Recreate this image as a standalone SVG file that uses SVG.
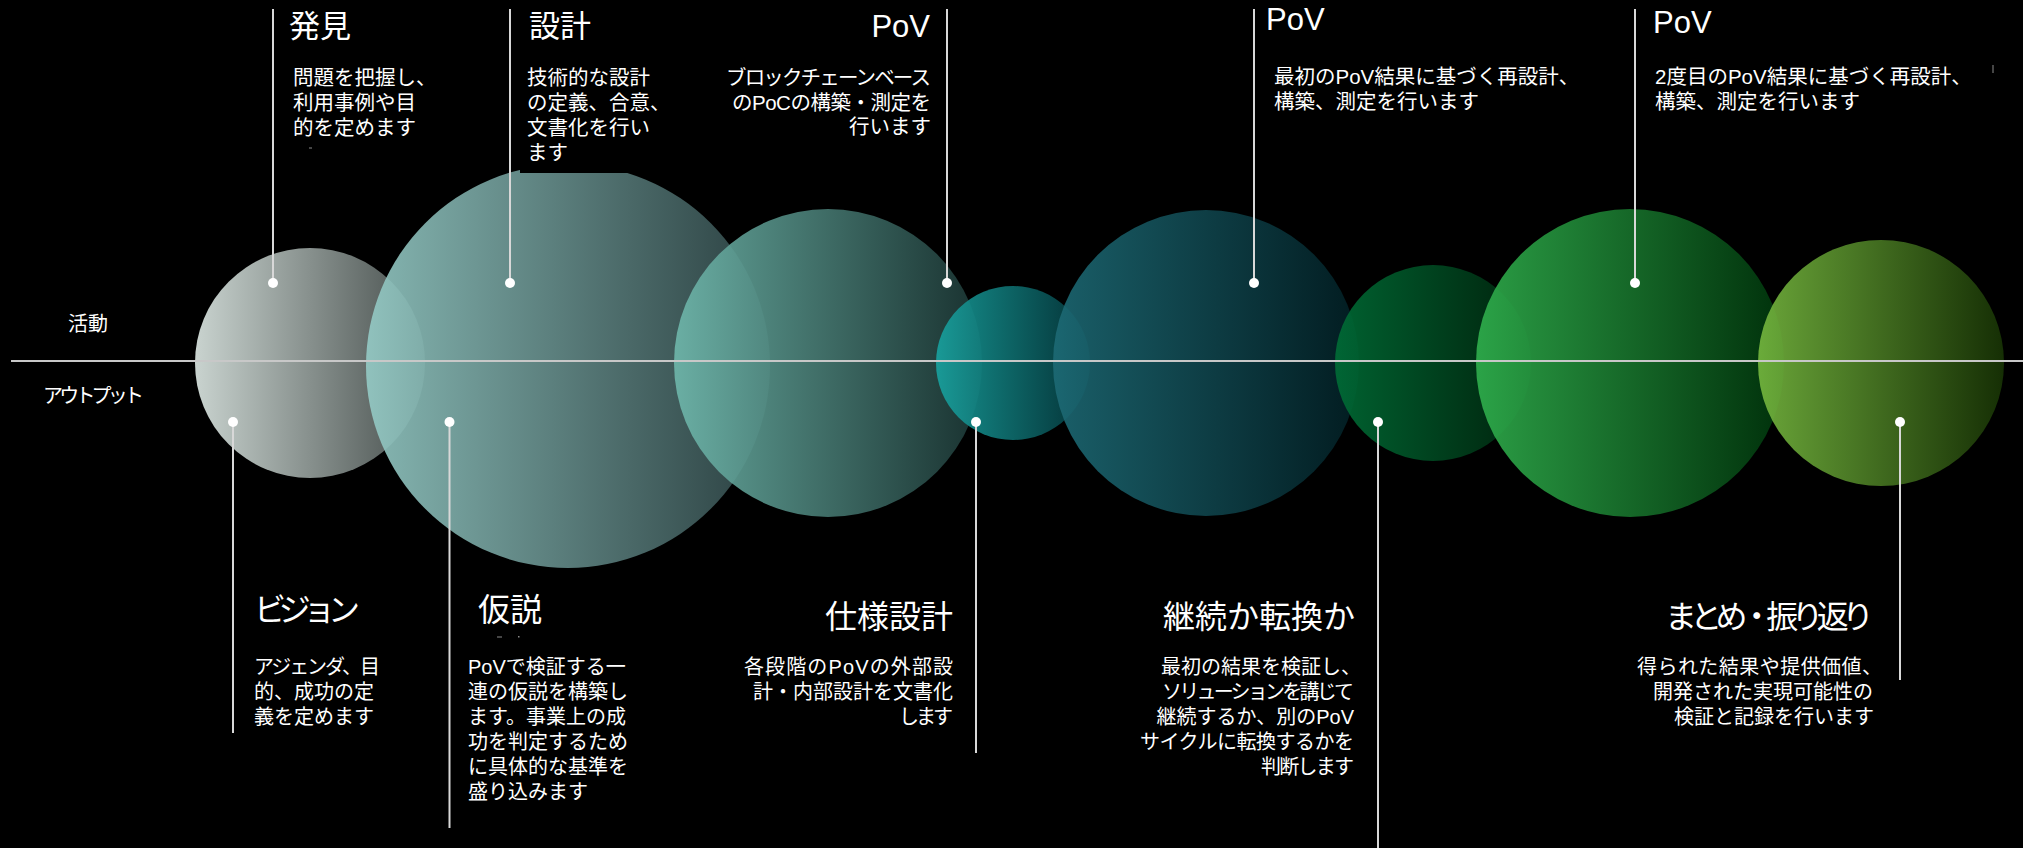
<svg xmlns="http://www.w3.org/2000/svg" width="2023" height="848" viewBox="0 0 2023 848">
<style>
.t{font-family:'Liberation Sans','Noto Sans CJK JP',sans-serif;fill:#ffffff}
.h{font-size:31px}
.hb{font-size:32px}
.d{font-size:20.5px}
.db{font-size:20px}
.e{text-anchor:end}
.v{stroke:#d8d8d8;stroke-width:2;fill:none}
.dot{fill:#ffffff}
.c{opacity:0.9}
</style>
<defs>
<linearGradient id="g1" x1="0" y1="0" x2="1" y2="0"><stop offset="0" stop-color="#c9d3cf"/><stop offset="1" stop-color="#454d4b"/></linearGradient>
<linearGradient id="g2" x1="0" y1="0" x2="1" y2="0"><stop offset="0" stop-color="#95cbc6"/><stop offset="1" stop-color="#2f4647"/></linearGradient>
<linearGradient id="g3" x1="0" y1="0" x2="1" y2="0"><stop offset="0" stop-color="#6fb8ac"/><stop offset="1" stop-color="#1b3634"/></linearGradient>
<linearGradient id="g4" x1="0" y1="0" x2="1" y2="0"><stop offset="0" stop-color="#18a3a0"/><stop offset="1" stop-color="#04363b"/></linearGradient>
<linearGradient id="g5" x1="0" y1="0" x2="1" y2="0"><stop offset="0" stop-color="#1d6a75"/><stop offset="1" stop-color="#021f24"/></linearGradient>
<linearGradient id="g6" x1="0" y1="0" x2="1" y2="0"><stop offset="0" stop-color="#006d36"/><stop offset="1" stop-color="#00250d"/></linearGradient>
<linearGradient id="g7" x1="0" y1="0" x2="1" y2="0"><stop offset="0" stop-color="#30b04d"/><stop offset="1" stop-color="#00360c"/></linearGradient>
<linearGradient id="g8" x1="0" y1="0" x2="1" y2="0"><stop offset="0" stop-color="#76b83f"/><stop offset="1" stop-color="#183405"/></linearGradient>
</defs>
<rect x="0" y="0" width="2023" height="848" fill="#000000"/>

<g id="circles">
<circle id="c1" cx="310" cy="363" r="115" fill="url(#g1)"/>
<circle id="c2" class="c" cx="568" cy="366" r="202" fill="url(#g2)"/>
<circle id="c3" class="c" cx="828" cy="363" r="154" fill="url(#g3)"/>
<circle id="c4" class="c" cx="1013" cy="363" r="77" fill="url(#g4)"/>
<circle id="c5" class="c" cx="1206" cy="363" r="153" fill="url(#g5)"/>
<circle id="c6" class="c" cx="1433" cy="363" r="98" fill="url(#g6)"/>
<circle id="c7" class="c" cx="1630" cy="363" r="154" fill="url(#g7)"/>
<circle id="c8" class="c" cx="1881" cy="363" r="123" fill="url(#g8)"/>
</g>

<rect id="mask-box" x="520" y="100" width="131" height="73" fill="#000000"/>

<g id="axis">
<line x1="11" y1="361" x2="2023" y2="361" stroke="#c8c8c8" stroke-width="2"/>
<text class="t db" x="68" y="331">活動</text>
<text class="t db" x="43" y="403" textLength="101">アウトプット</text>
</g>

<g id="connectors">
<line class="v" x1="273" y1="9" x2="273" y2="283"/>
<line class="v" x1="510" y1="9" x2="510" y2="283"/>
<line class="v" x1="947" y1="9" x2="947" y2="283"/>
<line class="v" x1="1254" y1="9" x2="1254" y2="283"/>
<line class="v" x1="1635" y1="9" x2="1635" y2="283"/>
<line class="v" x1="233" y1="422" x2="233" y2="733"/>
<line class="v" x1="449.5" y1="422" x2="449.5" y2="828"/>
<line class="v" x1="976" y1="422" x2="976" y2="753"/>
<line class="v" x1="1378" y1="422" x2="1378" y2="848"/>
<line class="v" x1="1900" y1="422" x2="1900" y2="680"/>
<circle class="dot" cx="273" cy="283" r="5"/>
<circle class="dot" cx="510" cy="283" r="5"/>
<circle class="dot" cx="947" cy="283" r="5"/>
<circle class="dot" cx="1254" cy="283" r="5"/>
<circle class="dot" cx="1635" cy="283" r="5"/>
<circle class="dot" cx="233" cy="422" r="5"/>
<circle class="dot" cx="449.5" cy="422" r="5"/>
<circle class="dot" cx="976" cy="422" r="5"/>
<circle class="dot" cx="1378" cy="422" r="5"/>
<circle class="dot" cx="1900" cy="422" r="5"/>
</g>

<g id="node-hakken">
<text class="t h" x="289" y="37">発見</text>
<text class="t d" x="293" y="85">問題を把握し、</text>
<text class="t d" x="293" y="110">利用事例や目</text>
<text class="t d" x="293" y="135">的を定めます</text>
</g>

<g id="node-sekkei">
<text class="t h" x="529" y="37">設計</text>
<text class="t d" x="527" y="85">技術的な設計</text>
<text class="t d" x="527" y="110">の定義、合意、</text>
<text class="t d" x="527" y="135">文書化を行い</text>
<text class="t d" x="527" y="160">ます</text>
</g>

<g id="node-pov1">
<text class="t h e" x="930" y="37">PoV</text>
<text class="t d e" x="931" y="85" textLength="205">ブロックチェーンベース</text>
<text class="t d e" x="931" y="110" textLength="199">のPoCの構築・測定を</text>
<text class="t d e" x="931" y="134">行います</text>
</g>

<g id="node-pov2">
<text class="t h" x="1266" y="30">PoV</text>
<text class="t d" x="1274" y="84">最初のPoV結果に基づく再設計、</text>
<text class="t d" x="1274" y="109">構築、測定を行います</text>
</g>

<g id="node-pov3">
<text class="t h" x="1653" y="33">PoV</text>
<text class="t d" x="1655" y="84">2度目のPoV結果に基づく再設計、</text>
<text class="t d" x="1655" y="109">構築、測定を行います</text>
</g>

<g id="node-vision">
<text class="t hb" x="254" y="621" textLength="106">ビジョン</text>
<text class="t db" x="254" y="674" textLength="126">アジェンダ、目</text>
<text class="t db" x="254" y="699">的、成功の定</text>
<text class="t db" x="254" y="724">義を定めます</text>
</g>

<g id="node-kasetsu">
<text class="t hb" x="478" y="621">仮説</text>
<text class="t db" x="468" y="674">PoVで検証する一</text>
<text class="t db" x="468" y="699">連の仮説を構築し</text>
<text class="t db" x="468" y="724">ます。事業上の成</text>
<text class="t db" x="468" y="749">功を判定するため</text>
<text class="t db" x="468" y="774">に具体的な基準を</text>
<text class="t db" x="468" y="799">盛り込みます</text>
</g>

<g id="node-shiyou">
<text class="t hb e" x="953" y="628">仕様設計</text>
<text class="t db e" x="953" y="674" textLength="209">各段階のPoVの外部設</text>
<text class="t db e" x="953" y="699">計・内部設計を文書化</text>
<text class="t db e" x="953" y="724" textLength="54">します</text>
</g>

<g id="node-keizoku">
<text class="t hb e" x="1355" y="628">継続か転換か</text>
<text class="t db e" x="1361" y="674">最初の結果を検証し、</text>
<text class="t db e" x="1354" y="699" textLength="192">ソリューションを講じて</text>
<text class="t db e" x="1354" y="724">継続するか、別のPoV</text>
<text class="t db e" x="1354" y="749" textLength="214">サイクルに転換するかを</text>
<text class="t db e" x="1354" y="774" textLength="93">判断します</text>
</g>

<g id="node-matome">
<text class="t hb e" x="1874" y="628" textLength="209">まとめ・振り返り</text>
<text class="t db e" x="1882" y="674" textLength="245">得られた結果や提供価値、</text>
<text class="t db e" x="1873" y="699">開発された実現可能性の</text>
<text class="t db e" x="1874" y="724">検証と記録を行います</text>
</g>

<g id="specks" fill="#8a8a8a">
<rect x="309" y="147.5" width="3" height="1"/>
<rect x="497" y="636.5" width="5" height="1"/>
<rect x="518" y="636" width="1.5" height="1.5"/>
<rect x="1992.5" y="65" width="1" height="8"/>
</g>
</svg>
